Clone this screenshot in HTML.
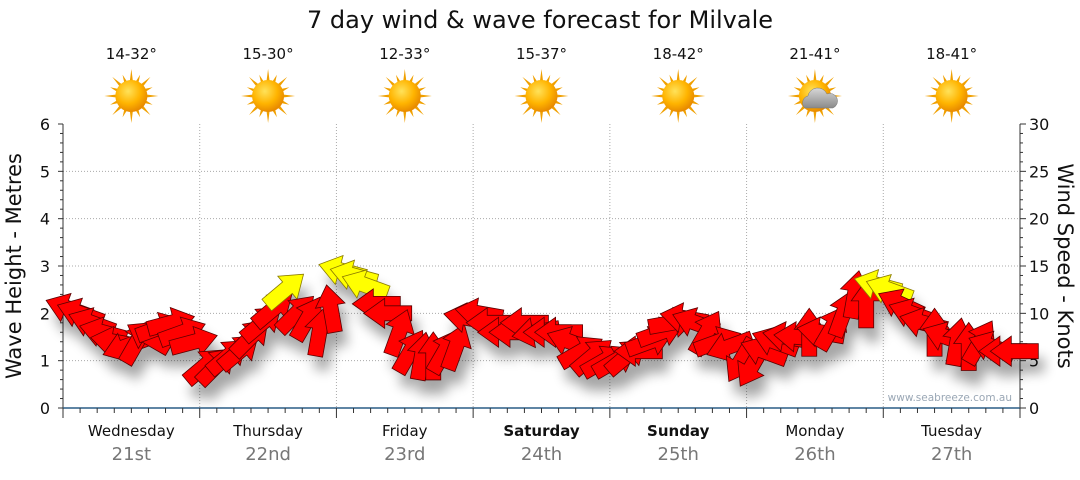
<!DOCTYPE html>
<html><head><meta charset="utf-8">
<style>
html,body{margin:0;padding:0;background:#fff;}
body{width:1080px;height:475px;overflow:hidden;font-family:"Liberation Sans",sans-serif;}
svg text{font-family:"DejaVu Sans","Liberation Sans",sans-serif;}
</style></head>
<body>
<svg id="chart" width="1080" height="475" viewBox="0 0 1080 475">
<defs>
 <filter id="shadow" x="-50%" y="-50%" width="200%" height="200%">
  <feGaussianBlur stdDeviation="6"/>
 </filter>
 <radialGradient id="sunG" cx="40%" cy="35%" r="65%">
  <stop offset="0" stop-color="#ffe25a"/><stop offset="0.6" stop-color="#ffb400"/><stop offset="1" stop-color="#e88a00"/>
 </radialGradient>
 <linearGradient id="cloudG" x1="0" y1="0" x2="0" y2="1">
  <stop offset="0" stop-color="#d8d8d8"/><stop offset="1" stop-color="#8a8a8a"/>
 </linearGradient>
</defs>
<text x="540" y="28" text-anchor="middle" font-size="24" fill="#111">7 day wind &amp; wave forecast for Milvale</text>
<g id="grid"></g>
<g id="axes"></g>
<g id="shadows" filter="url(#shadow)" opacity="0.35"></g>
<g id="arrows"></g>
<g id="days"></g>
<text x="1012" y="401" text-anchor="end" font-size="10.5" fill="#9aa7b5">www.seabreeze.com.au</text>
<text transform="translate(21,266) rotate(-90)" text-anchor="middle" font-size="21" fill="#111">Wave Height - Metres</text>
<text transform="translate(1058,266) rotate(90)" text-anchor="middle" font-size="21" fill="#111">Wind Speed - Knots</text>
</svg>
<script>
const dayNames=["Wednesday","Thursday","Friday","Saturday","Sunday","Monday","Tuesday"];
const dayDates=["21st","22nd","23rd","24th","25th","26th","27th"];
const dayBold=[false,false,false,true,true,false,false];
const tempRanges=["14-32°","15-30°","12-33°","15-37°","18-42°","21-41°","18-41°"];
const cloudy=[false,false,false,false,false,true,false];
const waveTicks=[0,1,2,3,4,5,6];
const windTicks=[0,5,10,15,20,25,30];
// wind speed (knots) every 2 hours from Wednesday 00:00
const windSpeed=[
 10.5,10,9,8,7,6.5,7,7.5,8.5,9,8,7,
 4.5,4.5,5.5,6,7.5,9,10.5,12.5,10,9.5,8,10.5,
 14.5,14,13,11,10,8,6,5.5,5.5,6,6.5,9.5,
 10,9,8,8,9,8,8,8,7,6,5.5,5,
 5,5.5,6,7,8,9,9.5,9,8,7,6.5,5,
 4.5,6,7,7.5,7.5,8,8,8.5,10,12,11,13,
 12.5,11,10,9,8,7.5,7,6.5,7,6.5,6,6];
// arrow direction (screen degrees, 0 = pointing right, -90 = up)
const windDir=[
 200,200,200,195,190,160,-60,210,-20,-15,-20,-15,
 -40,-45,-40,-40,-45,-40,-40,-40,-45,-60,-80,-100,
 195,195,200,180,180,-70,-60,-80,-90,-60,-70,190,
 190,180,180,180,180,170,180,180,200,-30,-40,-30,
 -30,-40,180,-20,-20,-10,190,200,-60,-20,160,120,
 120,200,200,190,185,-90,190,-60,-70,-80,-90,195,
 200,205,200,195,-90,200,-80,-90,-60,200,180,180];

const ns="http://www.w3.org/2000/svg";
const X0=63,X1=1020,Y0=408,Y1=124,HOURS=168;
const xOf=h=>X0+(X1-X0)*h/HOURS;
const yWave=m=>Y0-(Y0-Y1)*m/6;
const yWind=k=>Y0-(Y0-Y1)*k/30;
function mk(tag,attrs,parent){const e=document.createElementNS(ns,tag);for(const k in attrs)e.setAttribute(k,attrs[k]);parent.appendChild(e);return e;}
const grid=document.getElementById('grid'),axes=document.getElementById('axes'),days=document.getElementById('days');
waveTicks.forEach(t=>{if(t>0&&t<6){const l=mk('line',{x1:X0,x2:X1,y1:yWave(t),y2:yWave(t),stroke:'#aaa','stroke-dasharray':'1,2'},grid);

}});
for(let d=1;d<7;d++){const l=mk('line',{x1:xOf(d*24),x2:xOf(d*24),y1:Y1,y2:Y0,stroke:'#aaa','stroke-dasharray':'1,2'},grid);

}
mk('line',{x1:X0,x2:X0,y1:Y1,y2:Y0,stroke:'#333'},axes);
waveTicks.forEach(t=>{const y=yWave(t);mk('line',{x1:X0-5,x2:X0,y1:y,y2:y,stroke:'#333'},axes);
const tx=mk('text',{x:X0-13,y:y+6,'text-anchor':'end','font-size':16,fill:'#111'},axes);tx.textContent=t;

});
for(let i=0;i<=30;i++){if(i%5){const y=yWave(i/5);mk('line',{x1:X0-3,x2:X0,y1:y,y2:y,stroke:'#333'},axes);}}
mk('line',{x1:X1,x2:X1,y1:Y1,y2:Y0,stroke:'#333'},axes);
windTicks.forEach(t=>{const y=yWind(t);mk('line',{x1:X1,x2:X1+6,y1:y,y2:y,stroke:'#333'},axes);
const tx=mk('text',{x:X1+9,y:y+6,'font-size':16,fill:'#111'},axes);tx.textContent=t;

});
for(let i=0;i<=30;i++){if(i%5){const y=yWind(i);mk('line',{x1:X1,x2:X1+3,y1:y,y2:y,stroke:'#333'},axes);}}
mk('line',{x1:X0,x2:X1,y1:Y0,y2:Y0,stroke:'#2a5d86','stroke-width':1.5},axes);
for(let h=0;h<=HOURS;h+=3){const x=xOf(h);mk('line',{x1:x,x2:x,y1:Y0,y2:Y0+(h%24?5:10),stroke:'#333'},axes);}
for(let d=0;d<7;d++){
 const cx=xOf(d*24+12);
 const n=mk('text',{x:cx,y:436,'text-anchor':'middle','font-size':15,fill:'#111','font-weight':dayBold[d]?'bold':'normal'},days);n.textContent=dayNames[d];
 
 
 const dt=mk('text',{x:cx,y:460,'text-anchor':'middle','font-size':18,fill:'#777'},days);dt.textContent=dayDates[d];
 
 
 const tp=mk('text',{x:cx,y:59,'text-anchor':'middle','font-size':15,fill:'#111'},days);tp.textContent=tempRanges[d];
 
 
 const g=mk('g',{transform:`translate(${cx},96)`},days);
 
 
 for(let r=0;r<16;r++){const a=r*Math.PI/8,L=r%2?23:27;
  mk('polygon',{points:`${Math.cos(a-0.12)*14},${Math.sin(a-0.12)*14} ${Math.cos(a)*L},${Math.sin(a)*L} ${Math.cos(a+0.12)*14},${Math.sin(a+0.12)*14}`,fill:'#f0a000'},g);}
 mk('circle',{cx:0,cy:0,r:16,fill:'url(#sunG)'},g);
 if(cloudy[d]){mk('path',{d:'M-10,12 a7,7 0 0 1 3,-12 a10,10 0 0 1 19,-2 a7,7 0 0 1 6,14 z',fill:'url(#cloudG)',stroke:'#777','stroke-width':0.5},g);}
}
const sh=document.getElementById('shadows'),ar=document.getElementById('arrows');
const shape="-24,-7.5 3,-7.5 3,-15 24,0 3,15 3,7.5 -24,7.5";
windSpeed.forEach((s,i)=>{
 const x=xOf(i*2+1),y=yWind(s),a=windDir[i];
 mk('polygon',{points:shape,fill:'#000',transform:`translate(${x+6},${y+14}) rotate(${a})`},sh);
 const p=mk('polygon',{points:shape,fill:s>=12.5?'#ffff00':'#ff0000',stroke:s>=12.5?'#8a7a00':'#5a0000','stroke-width':0.8,transform:`translate(${x},${y}) rotate(${a})`},ar);
 
 
});
</script>
</body></html>
